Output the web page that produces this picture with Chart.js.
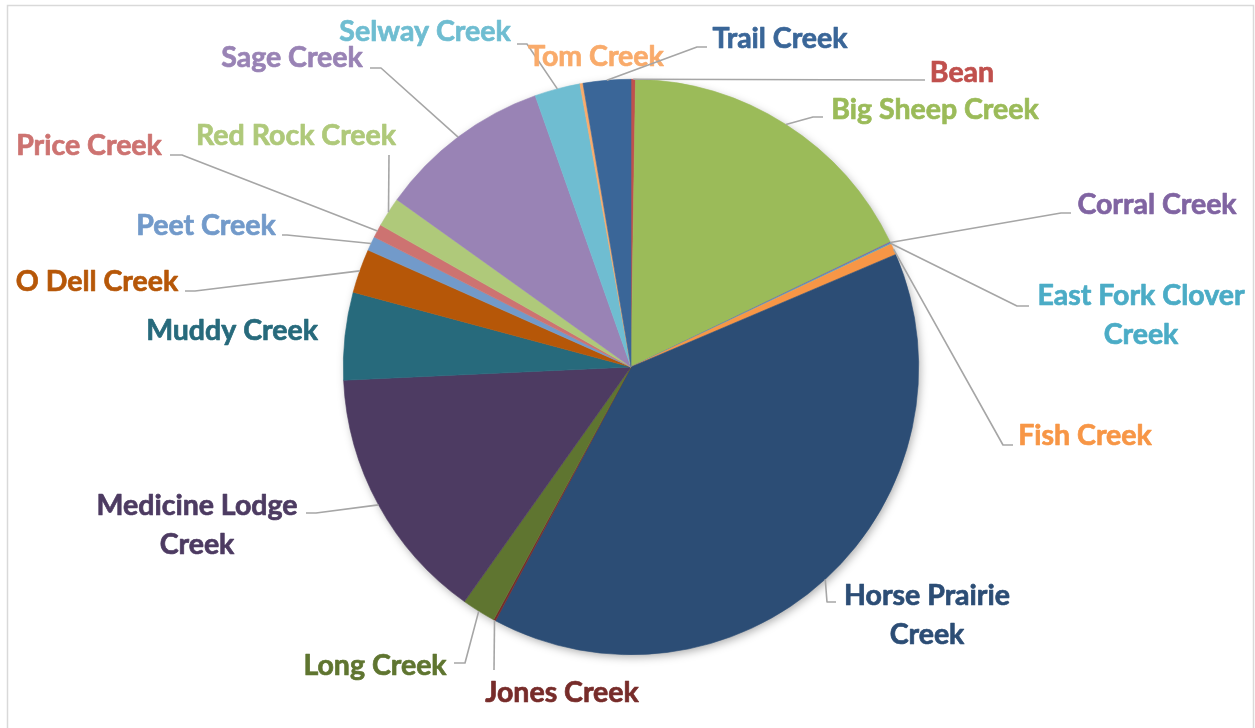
<!DOCTYPE html>
<html>
<head>
<meta charset="utf-8">
<script src="https://cdn.jsdelivr.net/npm/chart.js@4/dist/chart.umd.min.js"></script>
<style>
html,body{margin:0;padding:0;background:#fff;}
#wrap{width:1255px;height:728px;position:relative;}
</style>
</head>
<body>
<div id="wrap"><canvas id="c" width="1255" height="728"></canvas></div>
<script>
// ---- data ----
const categories = ['Bean','Big Sheep Creek','Corral Creek','East Fork Clover Creek','Fish Creek','Horse Prairie Creek','Jones Creek','Long Creek','Medicine Lodge Creek','Muddy Creek','O Dell Creek','Peet Creek','Price Creek','Red Rock Creek','Sage Creek','Selway Creek','Tom Creek','Trail Creek'];
const shares = [0.25, 17.6, 0.06, 0.06, 0.63, 39.2, 0.12, 1.9, 14.44, 4.92, 2.47, 0.8, 0.75, 1.67, 9.72, 2.56, 0.17, 2.67];
const labelLines = [['Bean'],['Big Sheep Creek'],['Corral Creek'],['East Fork Clover','Creek'],['Fish Creek'],['Horse Prairie','Creek'],['Jones Creek'],['Long Creek'],['Medicine Lodge','Creek'],['Muddy Creek'],['O Dell Creek'],['Peet Creek'],['Price Creek'],['Red Rock Creek'],['Sage Creek'],['Selway Creek'],['Tom Creek'],['Trail Creek']];

// ---- styles / layout ----
const colors = ['#c0504d','#9bbb59','#8064a2','#4bacc6','#f79646','#2c4d75','#772c2a','#5f7530','#4d3b62','#276a7c','#b65708','#729aca','#cd7371','#afc97a','#9983b5','#6fbdd1','#f9ab6b','#3a6698'];
// label text anchor: [centerX, baselineY of first line]
const labelPos = [[962,82],[935,119],[1157,214],[1141,305],[1085,445],[927,605],[562,702],[375,675],[197,515],[232,340],[97,291],[206,235],[89,155],[296,145],[292,67],[425,41],[596,66],[780,48]];
// leader polyline points after the slice edge (null = no leader)
const leaders = [
  [[925,80]],
  [[813,117],[823,117]],
  [[1061,213],[1071,213]],
  [[1017,306],[1029,306]],
  [[1003,445],[1013,445]],
  [[827,602],[836,602]],
  [[494,670]],
  [[465,663],[454,663]],
  [[316,513],[306,513]],
  null,
  [[195,291],[185,291]],
  [[287,235],[282,235]],
  [[182,155],[170,155]],
  [[389,155]],
  [[381,68],[370,68]],
  [[527,44],[517,44]],
  null,
  [[697,47],[707,47]]
];

const frame = {
  id:'frame',
  beforeDraw(chart){
    const ctx = chart.ctx;
    ctx.save();
    ctx.fillStyle='#fff';
    ctx.fillRect(0,0,chart.width,chart.height);
    ctx.strokeStyle='#d9d9d9';
    ctx.lineWidth=1.5;
    ctx.strokeRect(7.5,5.5,1246,760);
    ctx.restore();
  },
  beforeDatasetsDraw(chart){
    const meta = chart.getDatasetMeta(0);
    const el = meta.data[0];
    if(!el) return;
    const ctx = chart.ctx;
    ctx.save();
    ctx.shadowColor='rgba(0,0,0,0.35)';
    ctx.shadowBlur=10;
    ctx.shadowOffsetX=2;
    ctx.shadowOffsetY=3;
    ctx.fillStyle='#fff';
    ctx.beginPath();
    ctx.arc(el.x, el.y, el.outerRadius-1, 0, Math.PI*2);
    ctx.fill();
    ctx.restore();
  },
  afterDatasetsDraw(chart){
    const meta = chart.getDatasetMeta(0);
    const ctx = chart.ctx;
    ctx.save();
    meta.data.forEach((el,i)=>{
      const mid = (el.startAngle+el.endAngle)/2;
      const sx = el.x + Math.cos(mid)*el.outerRadius;
      const sy = el.y + Math.sin(mid)*el.outerRadius;
      const pts = leaders[i];
      if(pts){
        ctx.strokeStyle='#a6a6a6';
        ctx.lineWidth=1.6;
        ctx.beginPath();
        ctx.moveTo(sx,sy);
        pts.forEach(p=>ctx.lineTo(p[0],p[1]));
        ctx.stroke();
      }
      const lp = labelPos[i];
      ctx.fillStyle = colors[i];
      ctx.strokeStyle = colors[i];
      ctx.lineWidth = 0.7;
      ctx.lineJoin = 'round';
      ctx.font = 'bold 28.5px Lato';
      ctx.textAlign='center';
      ctx.textBaseline='alphabetic';
      labelLines[i].forEach((t,k)=>{
        ctx.fillText(t, lp[0], lp[1]+k*38.5);
        ctx.strokeText(t, lp[0], lp[1]+k*38.5);
      });
    });
    ctx.restore();
  }
};

new Chart(document.getElementById('c'), {
  type:'pie',
  data:{
    labels: categories,
    datasets:[{
      data: shares,
      backgroundColor: colors,
      borderColor: colors,
      borderWidth: 0.6,
      hoverOffset:0,
      offset:0
    }]
  },
  options:{
    responsive:false,
    animation:false,
    events:[],
    layout:{padding:{left:343,right:336,top:79,bottom:73}},
    plugins:{legend:{display:false},tooltip:{enabled:false}}
  },
  plugins:[frame]
});
</script>
</body>
</html>
